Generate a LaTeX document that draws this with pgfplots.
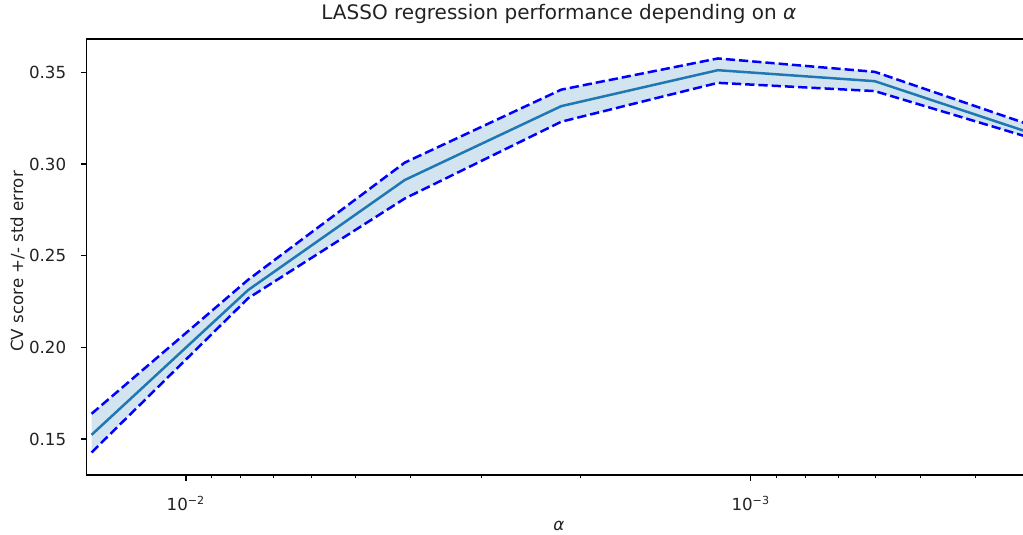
\documentclass[border=0pt]{standalone}
\usepackage{fontspec}
\setmainfont{DejaVu Sans}
\usepackage{pgfplots}
\pgfplotsset{compat=1.18}
\usepgfplotslibrary{fillbetween}
\definecolor{tabblue}{HTML}{1F77B4}
\definecolor{pureblue}{HTML}{0000FF}
\definecolor{txt}{HTML}{222222}
\begin{document}
\begin{tikzpicture}
\begin{axis}[
  name=ax,
  scale only axis,
  width=679.9pt, height=313.9pt,
  xmode=log, x dir=reverse,
  xmin=0.0003189, xmax=0.014985,
  ymin=0.1304, ymax=0.3682,
  xtick={0.01,0.001},
  xticklabels={10\textsuperscript{−2},10\textsuperscript{−3}},
  minor xtick={0.0004,0.0005,0.0006,0.0007,0.0008,0.0009,0.002,0.003,0.004,0.005,0.006,0.007,0.008,0.009},
  ytick={0.15,0.20,0.25,0.30,0.35},
  /pgf/number format/assume math mode=true,
  yticklabel style={/pgf/number format/fixed, /pgf/number format/fixed zerofill, /pgf/number format/precision=2},
  tick pos=left,
  tick align=outside,
  major tick length=4.2pt,
  minor tick length=2.4pt,
  every tick/.style={black, line width=0.96pt},
  every minor tick/.style={black, line width=0.72pt},
  axis line style={line width=0.96pt, black},
  tick label style={font=\fontsize{12}{14.4}\selectfont, inner sep=0pt, text=txt},
  xticklabel style={anchor=base, yshift=-21.6pt},
  yticklabel style={anchor=east, xshift=-10.4pt},
  title={LASSO regression performance depending on {\itshape α}},
  title style={font=\fontsize{14.4}{17.3}\selectfont, at={(axis description cs:0.5,1)}, anchor=base, inner sep=0pt, yshift=7.7pt, text=txt},
  xlabel={\itshape α},
  xlabel style={font=\fontsize{12}{14.4}\selectfont, at={(axis description cs:0.5,-0.1169)}, anchor=center, inner sep=0pt, text=txt},
  ylabel={CV score +/- std error},
  ylabel style={font=\fontsize{12}{14.4}\selectfont, at={(axis description cs:-0.0733,0.49)}, anchor=center, inner sep=0pt, text=txt},
]
\addplot[name path=upper, pureblue, line width=1.8pt, dash pattern=on 6.66pt off 2.88pt] coordinates {
 (0.014689,0.1638) (0.007758,0.2369) (0.004097,0.3008) (0.002164,0.3406)
 (0.001143,0.3576) (0.000603,0.3503) (0.0003189,0.3212)
};
\addplot[name path=lower, pureblue, line width=1.8pt, dash pattern=on 6.66pt off 2.88pt] coordinates {
 (0.014689,0.1427) (0.007758,0.2268) (0.004097,0.2812) (0.002164,0.3231)
 (0.001143,0.3443) (0.000603,0.3398) (0.0003189,0.3142)
};
\addplot[tabblue, fill opacity=0.2, fill=tabblue, draw=none] fill between[of=upper and lower];
\addplot[tabblue, line width=1.8pt] coordinates {
 (0.014689,0.1523) (0.007758,0.2313) (0.004097,0.2913) (0.002164,0.3316)
 (0.001143,0.3512) (0.000603,0.3452) (0.0003189,0.3169)
};
\end{axis}
\pgfresetboundingbox
\useasboundingbox ([xshift=-62.4pt, yshift=-42.5pt]ax.south west) rectangle ([xshift=-5.76pt, yshift=28.1pt]ax.north east);
\end{tikzpicture}
\end{document}
